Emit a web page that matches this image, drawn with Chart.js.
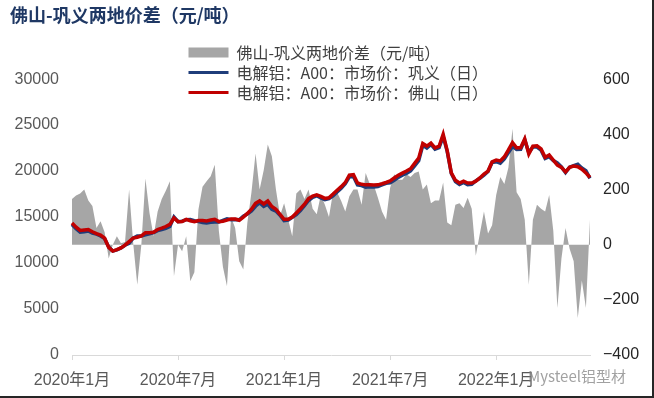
<!DOCTYPE html>
<html>
<head>
<meta charset="utf-8">
<script src="https://cdn.jsdelivr.net/npm/chart.js@4.4.1/dist/chart.umd.min.js"></script>
<style>
  html, body { margin: 0; padding: 0; background: #fff; }
  #wrap { width: 652px; height: 396px; border-right: 2px solid #262626; border-bottom: 2px solid #262626; }
</style>
</head>
<body>
<div id="wrap"><canvas id="myChart" width="652" height="396"></canvas></div>
<script>
'use strict';

// weekly samples (Fridays), from the first week of 2020
const weekCount = 128;
const weeks = [];
for (let i = 0; i < weekCount; i++) {
  weeks.push(new Date(Date.UTC(2020, 0, 3 + i * 7)).toISOString().slice(0, 10));
}

const xTickIdx = [0, 26, 52, 78, 104];
const xTickText = ['2020年1月', '2020年7月', '2021年1月', '2021年7月', '2022年1月'];

// 佛山-巩义 price spread, right axis (元/吨)
const spread = [165,178,185,200,160,140,60,85,45,-50,
  0,30,5,10,200,6,-145,0,240,115,
  30,120,165,195,230,-115,0,-24,30,-133,
  -100,127,210,230,248,290,50,-80,-151,100,
  60,-60,-90,80,190,330,200,270,363,320,
  200,105,150,91,30,185,200,165,200,130,
  110,180,145,100,190,190,158,120,175,200,
  200,145,260,220,215,170,120,90,206,255,
  235,235,255,245,260,265,200,218,150,160,
  160,225,80,70,145,150,133,170,130,-40,
  40,120,40,70,180,245,220,280,420,190,
  165,90,-145,90,145,130,120,180,50,-230,
  -50,60,-15,-60,-266,-130,-230,90];

// A00 aluminium, Gongyi (left axis)
const gongyi = [14185,13722,13365,13400,13490,13260,13140,12945,12655,11750,
  11300,11420,11645,11940,12130,12714,12945,12950,13060,13185,
  13320,13530,13635,13775,13970,15015,14500,14544,14720,14733,
  14600,14503,14410,14350,14422,14460,14450,14630,14811,14700,
  14720,14710,15090,15320,15660,16170,16550,16150,16387,15830,
  15650,15195,14600,14659,14970,15265,15700,16235,16800,17140,
  17310,17070,16885,17000,17310,17730,18142,18630,19375,19400,
  18500,18415,18240,18300,18265,18330,18500,18670,18714,18995,
  19315,19545,19745,20005,20570,21135,22800,22502,22900,22370,
  22540,23775,22120,19730,18855,18550,18767,18530,18570,18940,
  19210,19560,19960,20930,21020,20855,21330,22020,22680,22340,
  22365,23410,21995,22610,22605,22270,21380,21570,21150,20880,
  20450,19840,20415,20600,20746,20330,20030,19210];

// A00 aluminium, Foshan (left axis)
const foshan = [14350,13900,13550,13600,13650,13400,13200,13030,12700,11700,
  11300,11450,11650,11950,12330,12720,12800,12950,13300,13300,
  13350,13650,13800,13970,14200,14900,14500,14520,14750,14600,
  14500,14630,14620,14580,14670,14750,14500,14550,14660,14800,
  14780,14650,15000,15400,15850,16500,16750,16420,16750,16150,
  15850,15300,14750,14750,15000,15450,15900,16400,17000,17270,
  17420,17250,17030,17100,17500,17920,18300,18750,19550,19600,
  18700,18560,18500,18520,18480,18500,18620,18760,18920,19250,
  19550,19780,20000,20250,20830,21400,23000,22720,23050,22530,
  22700,24000,22200,19800,19000,18700,18900,18700,18700,18900,
  19250,19680,20000,21000,21200,21100,21550,22300,23100,22530,
  22530,23500,21850,22700,22750,22400,21500,21750,21200,20650,
  20400,19900,20400,20540,20480,20200,19800,19300];

Chart.defaults.font.family = '"Liberation Sans", "Noto Sans CJK SC", sans-serif';

// legend sits inside the plot, moved to where the original had it
const placeLegend = {
  id: 'placeLegend',
  afterLayout(chart) {
    chart.legend.left = 184.5;
    chart.legend.top = 40.5;
  }
};

const watermark = {
  id: 'watermark',
  afterDraw(chart) {
    const c = chart.ctx;
    c.save();
    c.font = '15px "Noto Sans CJK SC", sans-serif';
    c.fillStyle = 'rgba(130,130,130,0.75)';
    c.textBaseline = 'middle';
    c.fillText('Mysteel铝型材', 528, 376);
    c.restore();
  }
};

const ctx = document.getElementById('myChart').getContext('2d');

new Chart(ctx, {
  type: 'line',
  data: {
    labels: weeks,
    datasets: [{
      label: '佛山-巩义两地价差（元/吨）',
      data: spread,
      yAxisID: 'y1',
      fill: 'origin',
      backgroundColor: '#a6a6a6',
      borderColor: '#a6a6a6',
      borderWidth: 0,
      pointRadius: 0,
      order: 3
    }, {
      label: '电解铝：A00：市场价：巩义（日）',
      data: gongyi,
      yAxisID: 'y',
      borderColor: '#1f3d7a',
      backgroundColor: '#1f3d7a',
      borderWidth: 3.5,
      pointRadius: 0,
      order: 2
    }, {
      label: '电解铝：A00：市场价：佛山（日）',
      data: foshan,
      yAxisID: 'y',
      borderColor: '#c00000',
      backgroundColor: '#c00000',
      borderWidth: 3.5,
      pointRadius: 0,
      order: 1
    }]
  },
  options: {
    responsive: false,
    animation: false,
    layout: { padding: { left: 10, top: 4, right: 0, bottom: 0 } },
    plugins: {
      tooltip: { enabled: false },
      title: {
        display: true,
        text: '佛山-巩义两地价差（元/吨）',
        align: 'start',
        color: '#1f3864',
        font: { size: 18, weight: 'bold', family: '"Noto Sans CJK SC", sans-serif' },
        padding: { top: 0, bottom: 53.5 }
      },
      legend: {
        position: 'chartArea',
        align: 'start',
        labels: {
          usePointStyle: true,
          pointStyleWidth: 40,
          boxHeight: 10,
          padding: 4,
          color: '#404040',
          font: { size: 16, family: '"Noto Sans CJK SC", sans-serif' },
          generateLabels: chart => chart.data.datasets.map((ds, i) => ({
            text: ds.label,
            datasetIndex: i,
            fillStyle: ds.backgroundColor,
            strokeStyle: ds.borderColor,
            lineWidth: i === 0 ? 0 : 3,
            pointStyle: i === 0 ? 'rect' : 'line',
            fontColor: '#404040',
            hidden: false
          }))
        }
      }
    },
    scales: {
      x: {
        type: 'category',
        offset: false,
        grid: { display: true, drawOnChartArea: false, drawTicks: true, tickLength: 5, color: '#d9d9d9' },
        border: { display: true, color: '#d9d9d9' },
        afterBuildTicks: s => { s.ticks = xTickIdx.map(v => ({ value: v })); },
        afterFit: s => { s.height = 41; },
        ticks: {
          autoSkip: false,
          maxRotation: 0,
          padding: 11,
          color: '#595959',
          font: { size: 16 },
          callback: (v, i) => xTickText[i]
        }
      },
      y: {
        position: 'left',
        min: 0,
        max: 30000,
        grid: { display: false, drawTicks: false },
        border: { display: false },
        afterFit: s => { s.width = 62; },
        ticks: {
          stepSize: 5000,
          padding: 13,
          color: '#595959',
          font: { size: 16 },
          callback: v => String(v)
        }
      },
      y1: {
        position: 'right',
        min: -400,
        max: 600,
        grid: { display: false, drawTicks: false },
        border: { display: false },
        afterFit: s => { s.width = 62; },
        ticks: {
          stepSize: 200,
          padding: 13,
          color: '#262626',
          font: { size: 16 },
          callback: v => (v < 0 ? '−' + Math.abs(v) : String(v))
        }
      }
    }
  },
  plugins: [placeLegend, watermark]
});
</script>
</body>
</html>
